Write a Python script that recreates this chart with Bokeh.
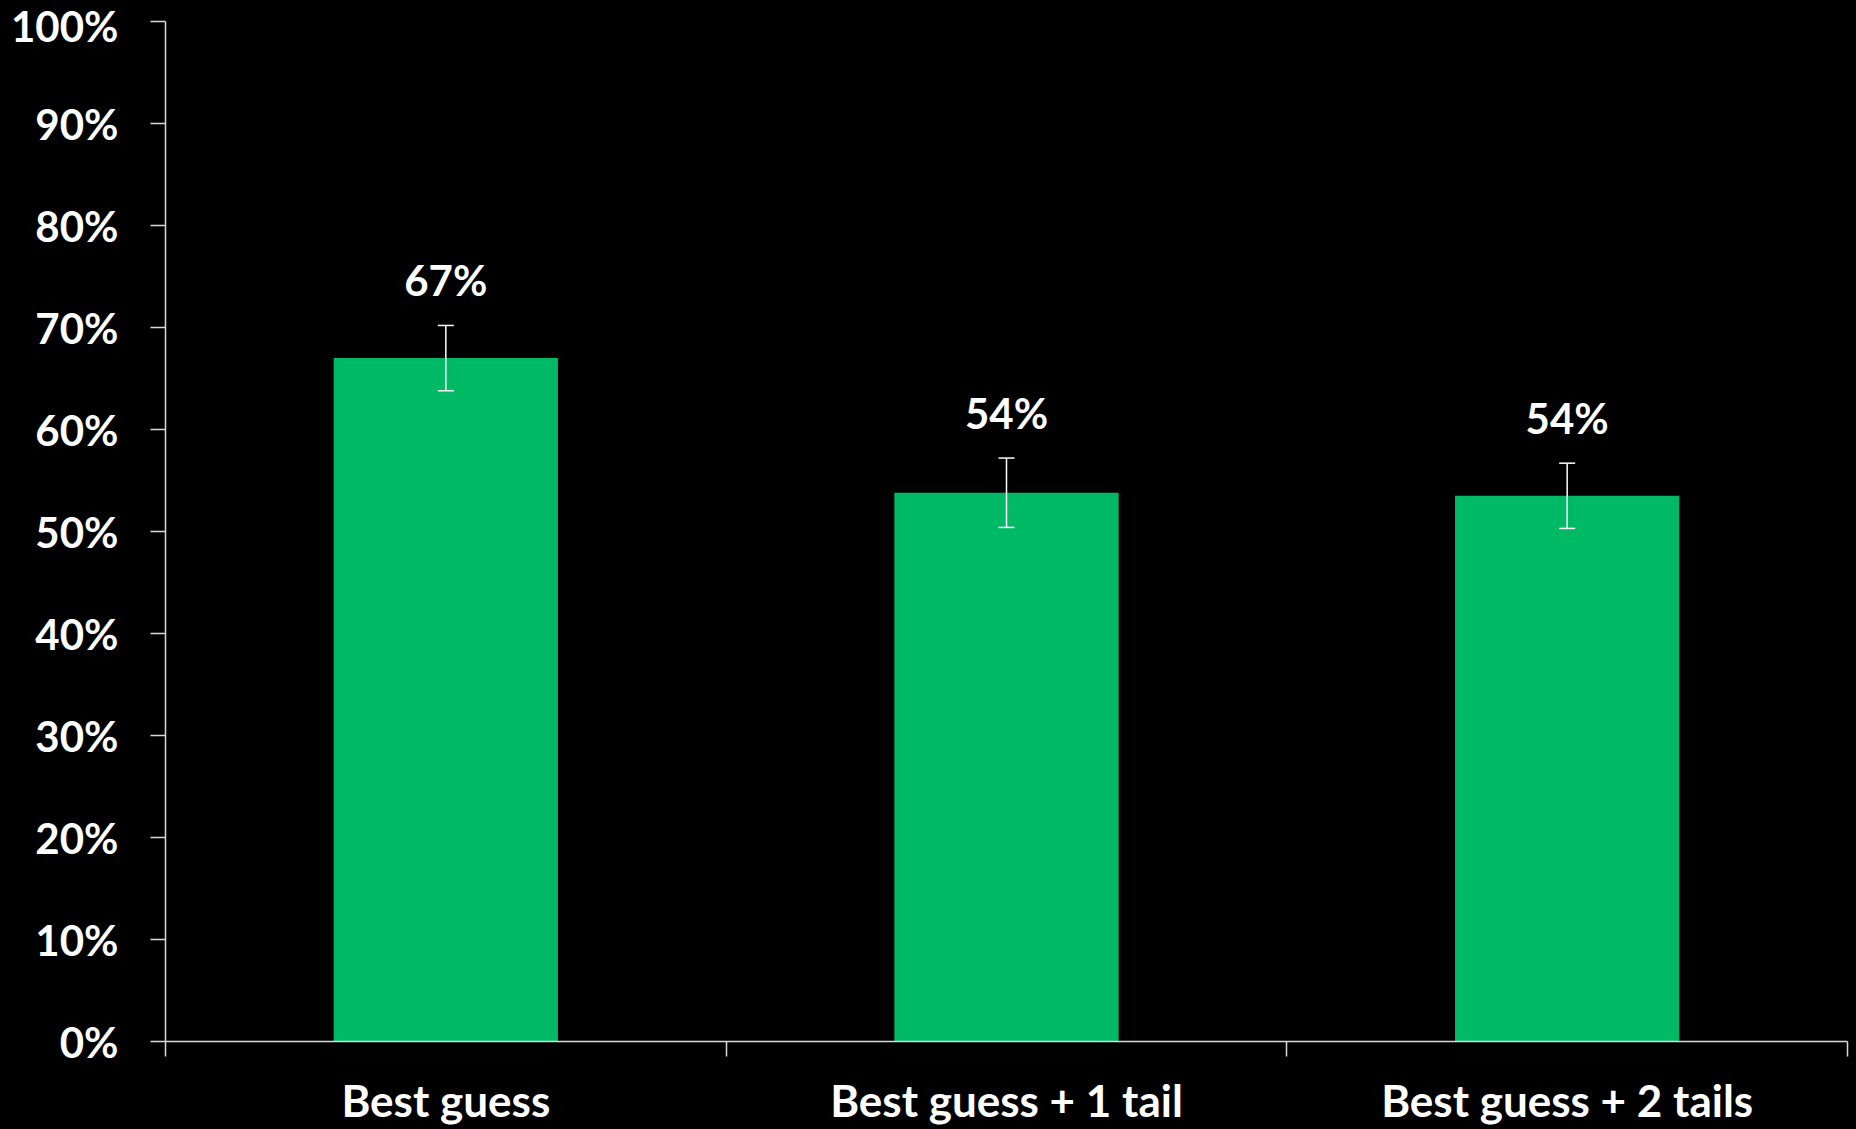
from bokeh.plotting import figure
from bokeh.models import (ColumnDataSource, Range1d, FixedTicker, NumeralTickFormatter,
                          Whisker, TeeHead, LabelSet, GlobalInlineStyleSheet)
from bokeh.core.properties import value
from bokeh.embed import file_html
from bokeh.resources import INLINE

categories = ["Best guess", "Best guess + 1 tail", "Best guess + 2 tails"]
values = [0.67, 0.538, 0.535]
errors = [0.032, 0.034, 0.032]
labels = ["67%", "54%", "54%"]
y_ticks = [0.0, 0.1, 0.2, 0.3, 0.4, 0.5, 0.6, 0.7, 0.8, 0.9, 1.0]

FONT = "Lato"
AX = "#d9d9d9"
BAR = "#00B964"

xs = [i + 0.5 for i in range(len(categories))]
src = ColumnDataSource(dict(
    x=xs, value=values,
    lo=[v - e for v, e in zip(values, errors)],
    hi=[v + e for v, e in zip(values, errors)],
    label=labels,
))

p = figure(width=1856, height=1129, output_backend="svg", toolbar_location=None,
           x_range=Range1d(0, len(categories)), y_range=Range1d(0, 1),
           min_border_left=165, min_border_right=9, min_border_top=21, min_border_bottom=88)
p.background_fill_color = "black"
p.border_fill_color = "black"
p.outline_line_color = None
p.xgrid.visible = False
p.ygrid.visible = False
p.stylesheets = [GlobalInlineStyleSheet(css="body{background:#000;}")]

p.vbar(x="x", top="value", width=0.4, source=src, fill_color=BAR, line_color=None)

head_u = TeeHead(size=16, line_color="white", line_width=1.5)
head_l = TeeHead(size=16, line_color="white", line_width=1.5)
p.add_layout(Whisker(base="x", upper="hi", lower="lo", source=src, level="overlay",
                     line_color="white", line_width=1.5,
                     upper_head=head_u, lower_head=head_l))

p.add_layout(LabelSet(x="x", y="hi", text="label", source=src, y_offset=29,
                      text_align="center", text_baseline="alphabetic",
                      text_font=value(FONT), text_font_style="bold", text_font_size="42px",
                      text_color="white"))

# y axis
ya = p.yaxis[0]
ya.ticker = FixedTicker(ticks=y_ticks, minor_ticks=[])
ya.formatter = NumeralTickFormatter(format="0%")
ya.axis_line_color = AX
ya.axis_line_width = 1.5
ya.major_tick_line_color = AX
ya.major_tick_line_width = 1.5
ya.major_tick_out = 15
ya.major_tick_in = 0
ya.minor_tick_line_color = None
ya.major_label_standoff = 32
ya.major_label_text_font = FONT
ya.major_label_text_font_style = "bold"
ya.major_label_text_font_size = "42px"
ya.major_label_text_color = "white"

# x axis
xa = p.xaxis[0]
xa.ticker = FixedTicker(ticks=xs, minor_ticks=[0, 1, 2, 3])
xa.major_label_overrides = {x: c for x, c in zip(xs, categories)}
xa.axis_line_color = AX
xa.axis_line_width = 1.5
xa.major_tick_line_color = None
xa.major_tick_out = 0
xa.major_tick_in = 0
xa.minor_tick_line_color = AX
xa.minor_tick_line_width = 1.5
xa.minor_tick_out = 15
xa.minor_tick_in = 0
xa.major_label_standoff = 17
xa.major_label_text_font = FONT
xa.major_label_text_font_style = "bold"
xa.major_label_text_font_size = "44px"
xa.major_label_text_color = "white"

html = file_html(p, INLINE, title="chart")
html = html.replace("<body>", '<body style="background:#000;">')
open("out.html", "w").write(html)
